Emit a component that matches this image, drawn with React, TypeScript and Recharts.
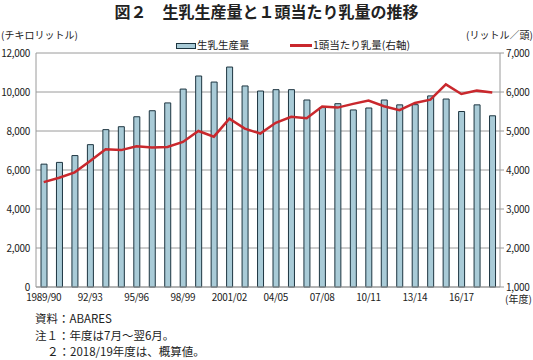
import React from 'react';
import {
  ComposedChart,
  Bar,
  Line,
  XAxis,
  YAxis,
  CartesianGrid,
} from 'recharts';

const years = [
  '1989/90', '90/91', '91/92', '92/93', '93/94', '94/95', '95/96', '96/97',
  '97/98', '98/99', '99/00', '2000/01', '2001/02', '02/03', '03/04', '04/05',
  '05/06', '06/07', '07/08', '08/09', '09/10', '10/11', '11/12', '12/13',
  '13/14', '14/15', '15/16', '16/17', '17/18', '18/19',
];

// 生乳生産量（千キロリットル）
const milkProduction = [
  6300, 6390, 6740, 7300, 8070, 8220, 8730, 9040, 9440, 10150, 10820, 10510,
  11280, 10310, 10050, 10120, 10120, 9590, 9200, 9400, 9080, 9180, 9590, 9340,
  9350, 9800, 9640, 9000, 9340, 8780,
];

// 1頭当たり乳量（リットル／頭）
const yieldPerCow = [
  3690, 3800, 3940, 4230, 4530, 4510, 4610, 4580, 4590, 4720, 5000, 4855,
  5315, 5060, 4935, 5210, 5365, 5330, 5630, 5600, 5695, 5780, 5635, 5535,
  5720, 5805, 6195, 5950, 6035, 5990,
];

const leftTicks = [0, 2000, 4000, 6000, 8000, 10000, 12000];
const rightTicks = [1000, 2000, 3000, 4000, 5000, 6000, 7000];

const data = years.map((year, i) => ({
  year,
  production: milkProduction[i],
  perCow: yieldPerCow[i],
}));

const FONT = '"Noto Sans CJK JP", "Noto Sans", sans-serif';
const BAR_FILL = '#a9cbd7';
const BAR_STROKE = '#1d3540';
const LINE_COLOR = '#c9282d';
const GRID = '#9a9a9a';
const TEXT = '#222';

const fmt = (v: number) => v.toLocaleString('en-US');
const tickStyle = { fontSize: 10, fill: TEXT, fontFamily: FONT, letterSpacing: -0.3 };

function ChartLegend() {
  return (
    <div style={{ position: 'absolute', left: 0, top: 38, width: 533, height: 14, fontFamily: FONT, fontSize: 10.5, color: TEXT, whiteSpace: 'nowrap' }}>
      <div style={{ position: 'absolute', left: 176, top: 5, width: 18, height: 4, background: BAR_FILL, border: `1px solid ${BAR_STROKE}` }} />
      <div style={{ position: 'absolute', left: 197, top: 0, lineHeight: '14px' }}>生乳生産量</div>
      <div style={{ position: 'absolute', left: 290, top: 6, width: 22, height: 3, background: LINE_COLOR }} />
      <div style={{ position: 'absolute', left: 313, top: 0, lineHeight: '14px' }}>1頭当たり乳量(右軸)</div>
    </div>
  );
}

export default function App() {
  return (
    <div style={{ position: 'absolute', left: 0, top: 0, width: 533, height: 360, background: '#fff', fontFamily: FONT, color: TEXT }}>
      <div style={{ position: 'absolute', left: 0, top: 1, width: 533, textAlign: 'center', fontSize: 16, fontWeight: 'bold', lineHeight: '20px', whiteSpace: 'nowrap' }}>
        図２　生乳生産量と１頭当たり乳量の推移
      </div>
      <div style={{ position: 'absolute', left: 1, top: 28, fontSize: 10, lineHeight: '14px', whiteSpace: 'nowrap' }}>(チキロリットル)</div>
      <div style={{ position: 'absolute', left: 466, top: 28, fontSize: 10, lineHeight: '14px', whiteSpace: 'nowrap' }}>(リットル／頭)</div>
      <ChartLegend />

      <ComposedChart
        width={533}
        height={360}
        data={data}
        margin={{ top: 53, right: 0, bottom: 53, left: 0 }}
        style={{ position: 'absolute', left: 0, top: 0 }}
      >
        <CartesianGrid yAxisId="left" vertical={false} stroke={GRID} strokeWidth={1} />
        <XAxis
          dataKey="year"
          interval={2}
          tickLine={false}
          axisLine={{ stroke: GRID }}
          height={20}
          tick={tickStyle}
          tickMargin={1}
        />
        <YAxis
          yAxisId="left"
          width={36}
          domain={[0, 12000]}
          ticks={leftTicks}
          tickFormatter={fmt}
          tickLine={false}
          axisLine={{ stroke: GRID }}
          tickMargin={0}
          tick={tickStyle}
        />
        <YAxis
          yAxisId="right"
          orientation="right"
          width={33}
          domain={[1000, 7000]}
          ticks={rightTicks}
          tickFormatter={fmt}
          tickSize={4}
          tickLine={{ stroke: GRID }}
          axisLine={{ stroke: GRID }}
          tickMargin={2}
          tick={tickStyle}
        />
        <Bar
          yAxisId="left"
          dataKey="production"
          name="生乳生産量"
          fill={BAR_FILL}
          stroke={BAR_STROKE}
          strokeWidth={1}
          barSize={6}
          isAnimationActive={false}
        />
        <Line
          yAxisId="right"
          type="linear"
          dataKey="perCow"
          name="1頭当たり乳量(右軸)"
          stroke={LINE_COLOR}
          strokeWidth={2.5}
          dot={false}
          activeDot={false}
          isAnimationActive={false}
        />
      </ComposedChart>

      <div style={{ position: 'absolute', left: 505, top: 292, fontSize: 10, lineHeight: '14px', whiteSpace: 'nowrap' }}>(年度)</div>
      <div style={{ position: 'absolute', left: 35, top: 310, fontSize: 11.5, lineHeight: '16.5px', whiteSpace: 'nowrap' }}>
        <div>資料：ABARES</div>
        <div>注１：年度は7月～翌6月。</div>
        <div style={{ paddingLeft: 12 }}>２：2018/19年度は、概算値。</div>
      </div>
    </div>
  );
}
